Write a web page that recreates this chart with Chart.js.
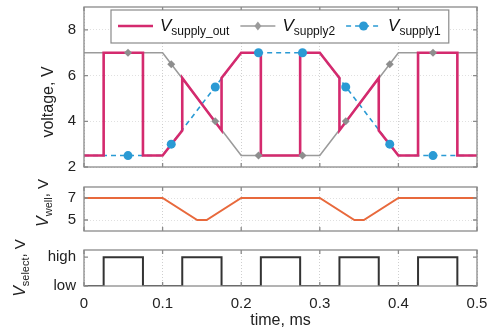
<!DOCTYPE html>
<html>
<head>
<meta charset="utf-8">
<script src="https://cdn.jsdelivr.net/npm/chart.js@4"></script>
<style>
  body { margin: 0; background: #fff; }
  #wrap { position: relative; width: 488px; height: 331px; }
  .c { position: absolute; left: 0; width: 488px; }
</style>
</head>
<body>
<div id="wrap">
  <div class="c" style="top:0;height:175px"><canvas id="supplyChart"></canvas></div>
  <div class="c" style="top:172px;height:68px"><canvas id="wellChart"></canvas></div>
  <div class="c" style="top:236px;height:95px"><canvas id="selectChart"></canvas></div>
</div>
<script>
// time in ms
var tCorners = [0, 0.1, 0.2, 0.3, 0.4, 0.5];
var vSupply2 = [7, 7, 2.5, 2.5, 7, 7];
var vSupply1 = [2.5, 2.5, 7, 7, 2.5, 2.5];

var tMarkers = [0.056, 0.111, 0.167, 0.222, 0.278, 0.333, 0.389, 0.444];
var vSupply2Markers = [7, 6.5, 4, 2.5, 2.5, 4, 6.5, 7];
var vSupply1Markers = [2.5, 3, 5.5, 7, 7, 5.5, 3, 2.5];

var tOut = [0, 0.025, 0.025, 0.075, 0.075, 0.1, 0.125, 0.125, 0.175, 0.175, 0.2, 0.225, 0.225,
            0.275, 0.275, 0.3, 0.325, 0.325, 0.375, 0.375, 0.4, 0.425, 0.425, 0.475, 0.475, 0.5];
var vOut = [2.5, 2.5, 7, 7, 2.5, 2.5, 3.6, 5.9, 3.6, 5.9, 7, 7, 2.5,
            2.5, 7, 7, 5.9, 3.6, 5.9, 3.6, 2.5, 2.5, 7, 7, 2.5, 2.5];

var tWell = [0, 0.1, 0.144, 0.156, 0.2, 0.3, 0.344, 0.356, 0.4, 0.5];
var vWell = [7, 7, 5, 5, 7, 7, 5, 5, 7, 7];

var tSelect = [0, 0.025, 0.025, 0.075, 0.075, 0.125, 0.125, 0.175, 0.175, 0.225, 0.225, 0.275, 0.275,
               0.325, 0.325, 0.375, 0.375, 0.425, 0.425, 0.475, 0.475, 0.5];
var vSelect = [0, 0, 1, 1, 0, 0, 1, 1, 0, 0, 1, 1, 0, 0, 1, 1, 0, 0, 1, 1, 0, 0];

var timeTicks = [0, 0.1, 0.2, 0.3, 0.4, 0.5];
var voltageTicks = [2, 4, 6, 8];
var wellTicks = [5, 7];
var selectTicks = [0, 1];
var selectLabels = ['low', 'high'];

var FONT = "'Liberation Sans', Arial, Helvetica, sans-serif";
var PINK = '#d42a6e', GRAY = '#9b9b9b', BLUE = '#2a9ad4', ORANGE = '#e8693c', DARK = '#333333';

function pts(xs, ys) {
    return xs.map(function(x, i) { return { x: x, y: ys[i] }; });
}

function partsWidth(ctx, parts) {
    var w = 0;
    parts.forEach(function(p) {
        ctx.font = (p.italic ? 'italic ' : '') + p.size + 'px ' + FONT;
        w += ctx.measureText(p.text).width;
    });
    return w;
}

function drawParts(ctx, parts, x, y) {
    var cx = x;
    ctx.textAlign = 'left';
    ctx.textBaseline = 'alphabetic';
    parts.forEach(function(p) {
        ctx.font = (p.italic ? 'italic ' : '') + p.size + 'px ' + FONT;
        ctx.fillText(p.text, cx, y + (p.sub ? 4 : 0));
        cx += ctx.measureText(p.text).width;
    });
    return cx - x;
}

// box around the plot + inward ticks, matlab style
var framePlugin = {
    id: 'frame',
    afterDatasetsDraw: function(chart) {
        var ctx = chart.ctx, a = chart.chartArea, sx = chart.scales.x, sy = chart.scales.y;
        ctx.save();
        ctx.strokeStyle = '#8a8a8a';
        ctx.lineWidth = 1.3;
        ctx.strokeRect(a.left, a.top, a.right - a.left, a.bottom - a.top);
        ctx.beginPath();
        sy.ticks.forEach(function(t) {
            var py = sy.getPixelForValue(t.value);
            ctx.moveTo(a.left, py); ctx.lineTo(a.left + 4, py);
            ctx.moveTo(a.right, py); ctx.lineTo(a.right - 4, py);
        });
        sx.ticks.forEach(function(t) {
            var px = sx.getPixelForValue(t.value);
            ctx.moveTo(px, a.top); ctx.lineTo(px, a.top + 4);
            ctx.moveTo(px, a.bottom); ctx.lineTo(px, a.bottom - 4);
        });
        ctx.stroke();
        ctx.restore();
    }
};

var yTitlePlugin = {
    id: 'yTitle',
    afterDraw: function(chart, args, opts) {
        var ctx = chart.ctx;
        ctx.save();
        ctx.fillStyle = '#222';
        ctx.translate(opts.x, opts.y);
        ctx.rotate(-Math.PI / 2);
        var w = partsWidth(ctx, opts.parts);
        drawParts(ctx, opts.parts, -w / 2, 0);
        ctx.restore();
    }
};

var legendItems = [
    { color: PINK, width: 2.5, dash: [], marker: null, parts: [{ text: 'V', italic: true, size: 17 }, { text: 'supply_out', size: 12, sub: true }] },
    { color: GRAY, width: 1.5, dash: [], marker: 'diamond', parts: [{ text: 'V', italic: true, size: 17 }, { text: 'supply2', size: 12, sub: true }] },
    { color: BLUE, width: 1.5, dash: [5, 4], marker: 'circle', parts: [{ text: 'V', italic: true, size: 17 }, { text: 'supply1', size: 12, sub: true }] }
];

var legendPlugin = {
    id: 'legendBox',
    afterDraw: function(chart) {
        var ctx = chart.ctx;
        var left = 111, top = 10, h = 33, lineY = 26, sample = 35;
        var widths = legendItems.map(function(it) { return partsWidth(ctx, it.parts); });
        var total = 7;
        widths.forEach(function(w, i) { total += sample + 7 + w + (i < widths.length - 1 ? 11 : 8); });
        ctx.save();
        ctx.fillStyle = '#fff';
        ctx.fillRect(left, top, total, h);
        ctx.strokeStyle = '#8a8a8a';
        ctx.lineWidth = 1.2;
        ctx.strokeRect(left, top, total, h);
        var x = left + 7;
        legendItems.forEach(function(it, i) {
            ctx.strokeStyle = it.color;
            ctx.lineWidth = it.width;
            ctx.setLineDash(it.dash);
            ctx.beginPath();
            ctx.moveTo(x, lineY); ctx.lineTo(x + sample, lineY);
            ctx.stroke();
            ctx.setLineDash([]);
            ctx.fillStyle = it.color;
            var mx = x + sample / 2;
            if (it.marker === 'circle') {
                ctx.beginPath(); ctx.arc(mx, lineY, 4.5, 0, Math.PI * 2); ctx.fill();
            } else if (it.marker === 'diamond') {
                ctx.beginPath();
                ctx.moveTo(mx, lineY - 4.5); ctx.lineTo(mx + 3.5, lineY);
                ctx.lineTo(mx, lineY + 4.5); ctx.lineTo(mx - 3.5, lineY);
                ctx.closePath(); ctx.fill();
            }
            ctx.fillStyle = '#111';
            x += sample + 7;
            drawParts(ctx, it.parts, x, 31);
            x += widths[i] + 11;
        });
        ctx.restore();
    }
};

function makeOptions(cfg) {
    return {
        responsive: true,
        maintainAspectRatio: false,
        animation: false,
        layout: { padding: { left: 0, right: 11, top: cfg.padTop, bottom: cfg.padBottom } },
        elements: { line: { tension: 0 }, point: { radius: 0 } },
        plugins: {
            legend: { display: false },
            tooltip: { enabled: false },
            yTitle: cfg.yTitle
        },
        scales: {
            x: {
                type: 'linear', min: 0, max: 0.5,
                afterBuildTicks: function(s) { s.ticks = timeTicks.map(function(v) { return { value: v }; }); },
                afterFit: function(s) { s.height = cfg.xHeight; s.paddingLeft = 0; s.paddingRight = 0; },
                grid: { color: '#cfcfcf', drawTicks: false, lineWidth: 1 },
                border: { display: false, dash: [1, 2] },
                ticks: {
                    display: cfg.showX, padding: 9, color: '#222', maxRotation: 0,
                    font: { family: FONT, size: 15 },
                    callback: function(v) { return String(v); }
                },
                title: {
                    display: cfg.showX, text: 'time, ms', color: '#222',
                    font: { family: FONT, size: 16 }, padding: { top: 2, bottom: 1 }
                }
            },
            y: {
                min: cfg.yMin, max: cfg.yMax,
                afterBuildTicks: function(s) { s.ticks = cfg.yTicks.map(function(v) { return { value: v }; }); },
                afterFit: function(s) { s.width = 84; s.paddingTop = 0; s.paddingBottom = 0; },
                grid: { color: cfg.yGrid ? '#e0e0e0' : 'rgba(0,0,0,0)', drawTicks: false },
                border: { display: false, dash: [1, 2] },
                ticks: {
                    padding: 8, color: '#222',
                    font: { family: FONT, size: 15 },
                    callback: cfg.yLabel || function(v) { return String(v); }
                }
            }
        }
    };
}

new Chart(document.getElementById('supplyChart'), {
    type: 'line',
    data: {
        datasets: [
            { label: 'V_supply_out', data: pts(tOut, vOut), borderColor: PINK, borderWidth: 2.6, pointRadius: 0, order: 1 },
            { label: 'V_supply2', data: pts(tCorners, vSupply2), borderColor: GRAY, borderWidth: 1.6, pointRadius: 0, order: 3 },
            { label: 'V_supply2 markers', data: pts(tMarkers, vSupply2Markers), showLine: false, pointStyle: 'rectRot',
              pointRadius: 4, backgroundColor: '#8e8e8e', pointBorderWidth: 0, order: 0 },
            { label: 'V_supply1', data: pts(tCorners, vSupply1), borderColor: BLUE, borderWidth: 1.6, borderDash: [5, 4], pointRadius: 0, order: 4 },
            { label: 'V_supply1 markers', data: pts(tMarkers, vSupply1Markers), showLine: false, pointStyle: 'circle',
              pointRadius: 4.5, backgroundColor: BLUE, pointBorderWidth: 0, order: 0 }
        ]
    },
    options: makeOptions({
        padTop: 7, padBottom: 8, xHeight: 0, showX: false,
        yMin: 2, yMax: 9, yTicks: voltageTicks, yGrid: true,
        yTitle: { x: 53, y: 102, parts: [{ text: 'voltage, V', size: 16 }] }
    }),
    plugins: [framePlugin, yTitlePlugin, legendPlugin]
});

new Chart(document.getElementById('wellChart'), {
    type: 'line',
    data: {
        datasets: [
            { label: 'V_well', data: pts(tWell, vWell), borderColor: ORANGE, borderWidth: 2, pointRadius: 0 }
        ]
    },
    options: makeOptions({
        padTop: 15, padBottom: 9, xHeight: 0, showX: false,
        yMin: 4, yMax: 8, yTicks: wellTicks, yGrid: true,
        yTitle: { x: 48, y: 31, parts: [{ text: 'V', italic: true, size: 16 }, { text: 'well', size: 11, sub: true }, { text: ', V', size: 15 }] }
    }),
    plugins: [framePlugin, yTitlePlugin]
});

new Chart(document.getElementById('selectChart'), {
    type: 'line',
    data: {
        datasets: [
            { label: 'V_select', data: pts(tSelect, vSelect), borderColor: DARK, borderWidth: 2, pointRadius: 0 }
        ]
    },
    options: makeOptions({
        padTop: 14, padBottom: 0, xHeight: 45, showX: true,
        yMin: 0, yMax: 1.25, yTicks: selectTicks, yGrid: false,
        yLabel: function(v) { return selectLabels[selectTicks.indexOf(v)]; },
        yTitle: { x: 25, y: 32, parts: [{ text: 'V', italic: true, size: 16 }, { text: 'select', size: 11, sub: true }, { text: ', V', size: 15 }] }
    }),
    plugins: [framePlugin, yTitlePlugin]
});
</script>
</body>
</html>
